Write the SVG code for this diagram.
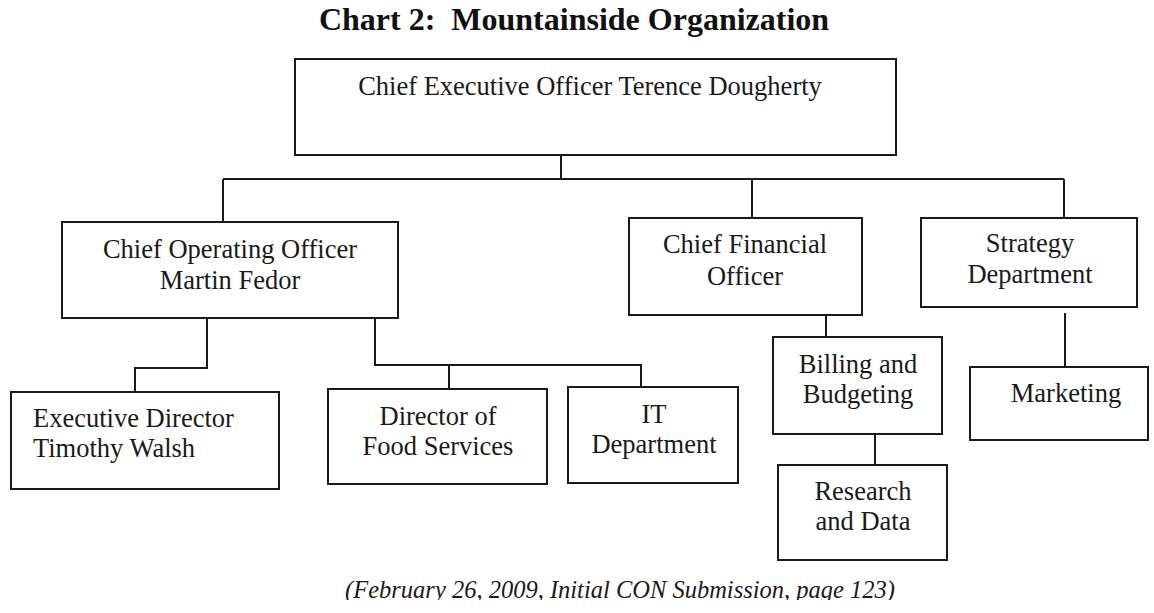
<svg xmlns="http://www.w3.org/2000/svg" width="1154" height="613" viewBox="0 0 1154 613">
  <style>
    .box { fill: #ffffff; stroke: #1a1a1a; stroke-width: 2; }
    .lbl { font-family: "Liberation Serif", "Times New Roman", serif; font-size: 26.5px; fill: #1a1a1a; text-anchor: middle; }
    .left { text-anchor: start; }
    .title { font-family: "Liberation Serif", "Times New Roman", serif; font-size: 32px; font-weight: bold; fill: #111111; text-anchor: middle; white-space: pre; }
    .note { font-family: "Liberation Serif", "Times New Roman", serif; font-size: 24.5px; font-style: italic; fill: #1a1a1a; text-anchor: middle; }
    .wire { fill: none; stroke: #1a1a1a; stroke-width: 2; }
  </style>
  <defs>
    <!-- the source line is cut just under its baseline -->
    <clipPath id="noteClip">
      <rect x="0" y="560" width="1154" height="40"/>
    </clipPath>
  </defs>
  <rect x="0" y="0" width="1154" height="613" fill="#ffffff"/>

  <text class="title" x="574" y="30" xml:space="preserve">Chart 2:  Mountainside Organization</text>

  <g id="connectors">
    <path class="wire" d="M561 155 V179"/>
    <path class="wire" d="M223 179 H1064"/>
    <path class="wire" d="M223 179 V222"/>
    <path class="wire" d="M752 179 V218"/>
    <path class="wire" d="M1064 179 V218"/>
    <path class="wire" d="M207 318 V368 H135 V392"/>
    <path class="wire" d="M375 318 V365 H641 V387"/>
    <path class="wire" d="M449 365 V389"/>
    <path class="wire" d="M826 315 V337"/>
    <path class="wire" d="M875 434 V465"/>
    <path class="wire" d="M1065 313 V367"/>
  </g>

  <g id="ceo">
    <rect class="box" x="295" y="59" width="601" height="96"/>
    <text class="lbl" x="590" y="95">Chief Executive Officer Terence Dougherty</text>
  </g>

  <g id="coo">
    <rect class="box" x="62" y="222" width="336" height="96"/>
    <text class="lbl" x="230" y="258">Chief Operating Officer</text>
    <text class="lbl" x="230" y="289">Martin Fedor</text>
  </g>

  <g id="cfo">
    <rect class="box" x="629" y="218" width="233" height="97"/>
    <text class="lbl" x="745" y="253">Chief Financial</text>
    <text class="lbl" x="745" y="285">Officer</text>
  </g>

  <g id="strategy">
    <rect class="box" x="921" y="218" width="216" height="89"/>
    <text class="lbl" x="1030" y="252">Strategy</text>
    <text class="lbl" x="1030" y="283">Department</text>
  </g>

  <g id="exec-director">
    <rect class="box" x="11" y="392" width="268" height="97"/>
    <text class="lbl left" x="33" y="427">Executive Director</text>
    <text class="lbl left" x="33" y="457">Timothy Walsh</text>
  </g>

  <g id="food-services">
    <rect class="box" x="328" y="389" width="219" height="95"/>
    <text class="lbl" x="438" y="425">Director of</text>
    <text class="lbl" x="438" y="455">Food Services</text>
  </g>

  <g id="it">
    <rect class="box" x="568" y="387" width="170" height="96"/>
    <text class="lbl" x="654" y="423">IT</text>
    <text class="lbl" x="654" y="453">Department</text>
  </g>

  <g id="billing">
    <rect class="box" x="773" y="337" width="169" height="97"/>
    <text class="lbl" x="858" y="373">Billing and</text>
    <text class="lbl" x="858" y="403">Budgeting</text>
  </g>

  <g id="research">
    <rect class="box" x="778" y="465" width="169" height="95"/>
    <text class="lbl" x="863" y="500">Research</text>
    <text class="lbl" x="863" y="530">and Data</text>
  </g>

  <g id="marketing">
    <rect class="box" x="970" y="367" width="178" height="73"/>
    <text class="lbl" x="1066" y="402">Marketing</text>
  </g>

  <text class="note" x="620" y="598" clip-path="url(#noteClip)">(February 26, 2009, Initial CON Submission, page 123)</text>
</svg>
